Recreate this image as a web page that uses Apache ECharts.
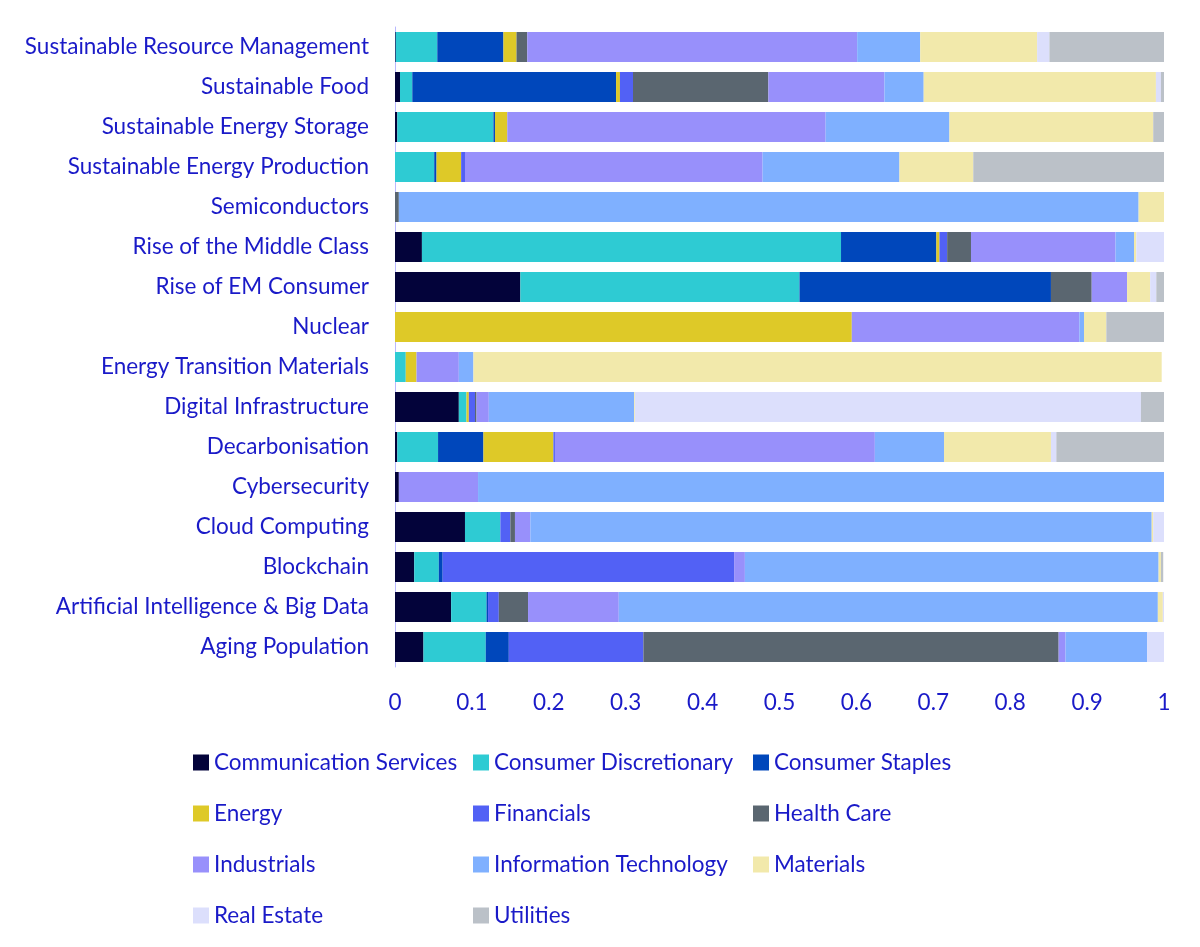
<!DOCTYPE html>
<html><head><meta charset="utf-8">
<script src="https://cdn.jsdelivr.net/npm/echarts@6/dist/echarts.min.js"></script>
<style>html,body{margin:0;padding:0;background:#fff}#c{width:1200px;height:947px}</style>
</head><body><div id="c"></div>
<script>
const categories = ["Aging Population","Artificial Intelligence & Big Data","Blockchain","Cloud Computing","Cybersecurity","Decarbonisation","Digital Infrastructure","Energy Transition Materials","Nuclear","Rise of EM Consumer","Rise of the Middle Class","Semiconductors","Sustainable Energy Production","Sustainable Energy Storage","Sustainable Food","Sustainable Resource Management"];
const seriesNames = ["Communication Services","Consumer Discretionary","Consumer Staples","Energy","Financials","Health Care","Industrials","Information Technology","Materials","Real Estate","Utilities"];
const colors = ["#03033a","#2ecbd3","#0047bb","#dec928","#5261f5","#5a6670","#9890fb","#7fb0ff","#f2e9ab","#dcdffc","#bbc1c8"];
const commServ   = [0.037,0.073,0.025,0.091,0.005,0.003,0.083,0,0,0.163,0.035,0,0,0.003,0.0065,0.001];
const consDisc   = [0.081,0.046,0.032,0.046,0,0.053,0.010,0.014,0,0.363,0.545,0,0.051,0.125,0.016,0.054];
const consStap   = [0.030,0.002,0.005,0,0,0.059,0,0,0,0.327,0.124,0,0.003,0.002,0.265,0.086];
const energy     = [0,0,0,0,0,0.091,0.003,0.014,0.594,0,0.004,0,0.032,0.016,0.005,0.017];
const financials = [0.175,0.014,0.379,0.013,0,0.002,0.008,0,0,0,0.010,0,0.005,0,0.017,0];
const healthCare = [0.540,0.038,0,0.006,0,0,0.002,0,0,0.053,0.031,0.005,0,0,0.176,0.014];
const industrials= [0.009,0.118,0.014,0.020,0.103,0.416,0.016,0.055,0.296,0.046,0.188,0,0.387,0.414,0.151,0.429];
const infoTech   = [0.106,0.701,0.538,0.808,0.892,0.090,0.189,0.019,0.006,0,0.024,0.962,0.178,0.161,0.051,0.082];
const materials  = [0,0.0065,0.003,0.002,0,0.139,0.001,0.895,0.029,0.030,0.003,0.034,0.096,0.265,0.302,0.152];
const realEstate = [0.025,0.0065,0,0.019,0,0.007,0.658,0,0,0.008,0.037,0,0,0,0.0065,0.016];
const utilities  = [0.003,0,0.003,0,0,0.145,0.031,0,0.077,0.014,0.004,0,0.251,0.019,0.008,0.149];
const values = [commServ,consDisc,consStap,energy,financials,healthCare,industrials,infoTech,materials,realEstate,utilities];
const xTicks = [0,0.1,0.2,0.3,0.4,0.5,0.6,0.7,0.8,0.9,1];

const txt = '#1a1ac8', font = 'Lato', fs = 22.5;
const legendCols = [[0,3,6,9],[1,4,7,10],[2,5,8]];
const lefts = [188,468,748];
const chart = echarts.init(document.getElementById('c'));
chart.setOption({
  animation:false,
  textStyle:{fontFamily:font},
  legend: legendCols.map((col,i)=>({
    orient:'vertical', left:lefts[i], top:746, itemGap:28, itemWidth:16, itemHeight:16,
    icon:'rect', data:col.map(k=>seriesNames[k]),
    textStyle:{color:txt,fontSize:fs,fontFamily:font}
  })),
  grid:{left:395,right:36,top:27,bottom:280,containLabel:false},
  xAxis:{type:'value',min:0,max:1,interval:0.1,
    axisLine:{show:false},axisTick:{show:false},splitLine:{show:false},
    axisLabel:{color:txt,fontSize:fs,margin:24,fontFamily:font,
      formatter:v=>{const t=xTicks.find(x=>Math.abs(x-v)<1e-9);return t===undefined?'':String(t);}}},
  yAxis:{type:'category',data:categories,
    axisLine:{show:true,lineStyle:{color:'#b8b8ff',width:1}},axisTick:{show:false},
    axisLabel:{color:txt,fontSize:fs,margin:26,fontFamily:font}},
  series: seriesNames.map((n,i)=>({
    name:n,type:'bar',stack:'a',barWidth:'75%',data:values[i],
    itemStyle:{color:colors[i]}
  }))
});
</script></body></html>
